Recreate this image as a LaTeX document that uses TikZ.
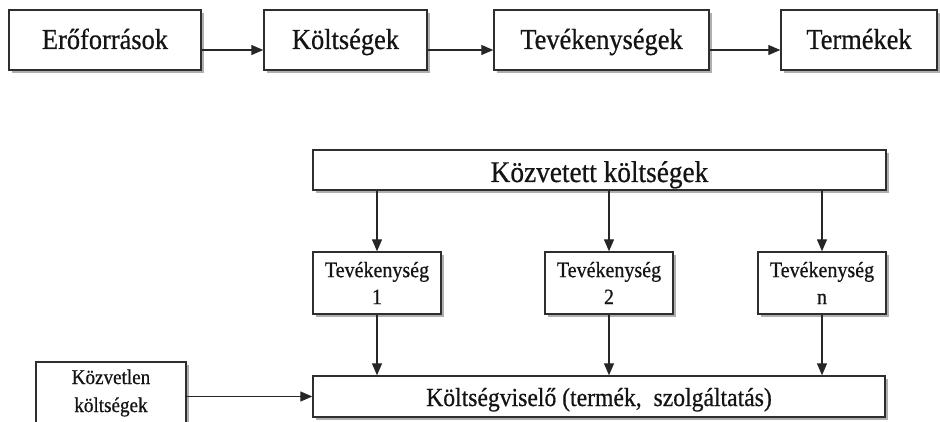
\documentclass[tikz,border=0pt]{standalone}
\usepackage{fontspec}
\setmainfont{Liberation Serif}[FakeStretch=0.91,FakeBold=0.6]
\usetikzlibrary{arrows.meta,shadows}
\begin{document}
\begin{tikzpicture}[x=1pt,y=-1pt,
  box/.style={draw=black!82, line width=1.4pt, fill=white, inner sep=0pt,
    text=black!92, align=center,
    drop shadow={shadow xshift=3pt, shadow yshift=-3pt, fill=black!35, opacity=0.9}},
  bigtext/.style={font=\fontsize{29}{34}\selectfont, text height=22pt, text depth=4pt},
  midtext/.style={font=\fontsize{30}{34}\selectfont, text height=28pt, text depth=4pt},
  smalltext/.style={font=\fontsize{22}{27}\selectfont},
  arr/.style={draw=black!85, line width=1.3pt, -{Triangle[length=12pt,width=10pt]}}]
\useasboundingbox (0,0) rectangle (940,422);
% top row
\node[box,bigtext,minimum width=192pt,minimum height=60pt] (ero) at (105,40) {Erőforrások};
\node[box,bigtext,minimum width=163pt,minimum height=60pt] (kolt) at (345.5,40) {Költségek};
\node[box,bigtext,minimum width=215pt,minimum height=60pt] (tev) at (601.5,40) {Tevékenységek};
\node[box,bigtext,minimum width=156pt,minimum height=60pt] (term) at (859,40) {Termékek};
\draw[arr] ([yshift=-10pt]ero.east) -- ([yshift=-10pt]kolt.west);
\draw[arr] ([yshift=-10pt]kolt.east) -- ([yshift=-10pt]tev.west);
\draw[arr] ([yshift=-10pt]tev.east) -- ([yshift=-10pt]term.west);
% bottom part
\node[box,midtext,minimum width=573pt,minimum height=40pt] (kozt) at (599.5,170) {Közvetett költségek};
\node[box,smalltext,minimum width=128pt,minimum height=62pt] (t1) at (377,283) {Tevékenység\\1};
\node[box,smalltext,minimum width=128pt,minimum height=62pt] (t2) at (609,283) {Tevékenység\\2};
\node[box,smalltext,minimum width=128pt,minimum height=62pt] (tn) at (822,283) {Tevékenység\\n};
\node[box,font=\fontsize{26}{30}\selectfont,text height=23pt,text depth=4pt,minimum width=572pt,minimum height=41pt] (kv) at (599,396.5) {Költségviselő (termék,~ szolgáltatás)};
\node[box,font=\fontsize{21}{28}\selectfont,minimum width=150pt,minimum height=62pt] (kozl) at (111,393) {Közvetlen\\költségek};
\draw[arr] (kozt.south -| t1.north) -- (t1.north);
\draw[arr] (kozt.south -| t2.north) -- (t2.north);
\draw[arr] (kozt.south -| tn.north) -- (tn.north);
\draw[arr] (t1.south) -- (kv.north -| t1.south);
\draw[arr] (t2.south) -- (kv.north -| t2.south);
\draw[arr] (tn.south) -- (kv.north -| tn.south);
\draw[arr] (kozl.east |- kv.west) -- (kv.west);
\end{tikzpicture}
\end{document}
